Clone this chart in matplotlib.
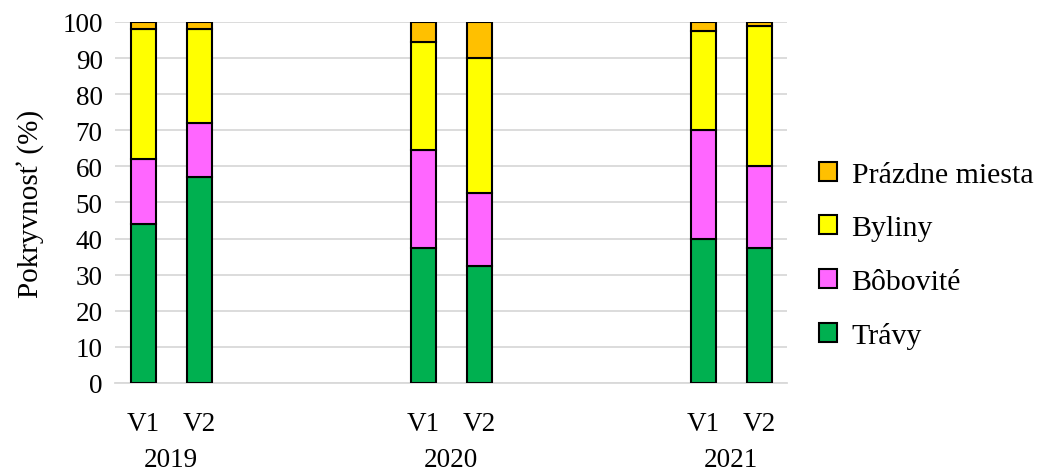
import matplotlib.pyplot as plt
from matplotlib.patches import Patch
import matplotlib.transforms as mtransforms
import numpy as np

plt.rcParams['font.family'] = ['Liberation Serif', 'DejaVu Serif']

# Daten
years = ["2019", "2020", "2021"]
variants = ["V1", "V2"]
travy = [44, 57, 37.5, 32.5, 40, 37.5]
bobovite = [18, 15, 27, 20, 30, 22.5]
byliny = [36, 26, 30, 37.5, 27.5, 39]
prazdne = [2, 2, 5.5, 10, 2.5, 1]

series = [
    ("Trávy", travy, "#00B050"),
    ("Bôbovité", bobovite, "#FF66FF"),
    ("Byliny", byliny, "#FFFF00"),
    ("Prázdne miesta", prazdne, "#FFC000"),
]

# 12 Kategorien: V1 V2 _ _ _ V1 V2 _ _ _ V1 V2
group_gap = 5
pos = []
labels = []
for g in range(len(years)):
    for v in range(len(variants)):
        pos.append(g * group_gap + v)
        labels.append(variants[v])
pos = np.array(pos)

fig = plt.figure(figsize=(10.47, 4.77), dpi=100)
ax = fig.add_axes([0.110, 0.195, 0.642, 0.757])

bottom = np.zeros(len(pos))
for name, vals, col in series:
    ax.bar(pos, vals, 0.44, bottom=bottom, color=col, edgecolor='black',
           linewidth=1.5, label=name, zorder=3)
    bottom += np.array(vals)

ax.set_xlim(-0.5, (len(years) - 1) * group_gap + 1.5)
ax.set_ylim(0, 100)
ax.set_yticks(range(0, 101, 10))
ax.yaxis.grid(True, color='#d9d9d9', linewidth=1.3, zorder=0)
for s in ['top', 'right', 'left']:
    ax.spines[s].set_visible(False)
ax.spines['bottom'].set_color('#d9d9d9')
ax.spines['bottom'].set_linewidth(1.3)
ax.tick_params(axis='both', length=0, labelsize=19.5)
ax.tick_params(axis='y', pad=9)
ax.tick_params(axis='x', pad=20)
ax.set_xticks(pos)
ax.set_xticklabels(labels)
ax.set_ylabel("Pokryvnosť (%)", fontsize=21, labelpad=13)

trans = mtransforms.blended_transform_factory(ax.transData, ax.transAxes)
for g, yr in enumerate(years):
    ax.text(g * group_gap + 0.5, -0.213, yr, transform=trans, ha='center',
            va='center', fontsize=19.5)

handles = [Patch(facecolor=col, edgecolor='black', linewidth=1.5, label=name)
           for name, vals, col in series][::-1]
fig.legend(handles=handles, loc='center left', bbox_to_anchor=(0.782, 0.462),
           frameon=False, fontsize=21.5, handlelength=0.6, handleheight=0.6,
           handletextpad=0.5, labelspacing=0.92, borderpad=0, borderaxespad=0)

fig.savefig("out.png", dpi=100)
